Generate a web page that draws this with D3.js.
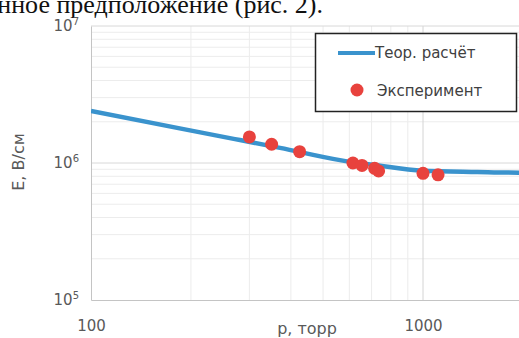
<!DOCTYPE html>
<html>
<head>
<meta charset="utf-8">
<script src="https://cdn.jsdelivr.net/npm/d3@7"></script>
<style>
  body { margin: 0; background: #fff; }
  svg { display: block; }
</style>
</head>
<body>
<svg></svg>
<script>
// chart data
var curveP = [100, 185, 281, 371, 562, 717, 1000, 1455, 1946, 2600];
var curveE = [2.40e6, 1.79e6, 1.47e6, 1.29e6, 1.05e6, 0.967e6, 0.879e6, 0.86e6, 0.85e6, 0.855e6];
var expP = [300, 350, 425, 615, 655, 715, 735, 1000, 1110];
var expE = [1.55e6, 1.37e6, 1.21e6, 1.0e6, 0.96e6, 0.915e6, 0.875e6, 0.84e6, 0.82e6];
var xTicks = [100, 1000];
var yTicks = [1e5, 1e6, 1e7];
var legendLabels = ['Теор. расчёт', 'Эксперимент'];
var topText = 'нное предположение (рис. 2).';

var width = 519;
var height = 338;
var padLeft = 91, padTop = 26, padBottom = 300, padRight = 755;
var font = '"DejaVu Sans", sans-serif';
var blue = '#3a93cd';
var red = '#e8423d';

var svg = d3.select('svg').attr('width', width).attr('height', height);

var xScale = d3.scaleLog().domain([100, 10000]).range([padLeft, padRight]);
var yScale = d3.scaleLog().domain([1e5, 1e7]).range([padBottom, padTop]);

// text line above the figure
svg.append('text')
  .attr('x', 323)
  .attr('y', 13)
  .attr('text-anchor', 'end')
  .attr('font-family', '"Liberation Serif", serif')
  .attr('font-size', 26)
  .attr('fill', '#111')
  .text(topText);

// grid
var minorX = [], minorY = [];
[100, 1000].forEach(function (b) {
  for (var k = 2; k <= 9; k++) minorX.push(b * k);
});
[1e5, 1e6].forEach(function (b) {
  for (var k = 2; k <= 9; k++) minorY.push(b * k);
});

var grid = svg.append('g');
grid.selectAll('.mx').data(minorX).enter().append('line')
  .attr('x1', (d) => xScale(d)).attr('x2', (d) => xScale(d))
  .attr('y1', padTop).attr('y2', padBottom)
  .attr('stroke', '#ececec');
grid.selectAll('.my').data(minorY).enter().append('line')
  .attr('x1', padLeft).attr('x2', width)
  .attr('y1', (d) => yScale(d)).attr('y2', (d) => yScale(d))
  .attr('stroke', '#ececec');
grid.selectAll('.Mx').data([1000]).enter().append('line')
  .attr('x1', (d) => xScale(d)).attr('x2', (d) => xScale(d))
  .attr('y1', padTop).attr('y2', padBottom)
  .attr('stroke', '#d4d4d4');
grid.selectAll('.My').data([1e6, 1e7]).enter().append('line')
  .attr('x1', padLeft).attr('x2', width)
  .attr('y1', (d) => yScale(d)).attr('y2', (d) => yScale(d))
  .attr('stroke', '#d8d8d8');

// axes
var xAxis = d3.axisBottom(xScale).tickValues(xTicks).tickSize(0).tickPadding(20)
  .tickFormat(d3.format('d'));
var gx = svg.append('g')
  .attr('transform', 'translate(0,' + padBottom + ')')
  .call(xAxis);
gx.select('.domain').attr('stroke', '#c4c4c4');
gx.selectAll('text').attr('font-family', font).attr('font-size', 15).attr('fill', '#595959');

var yAxis = d3.axisLeft(yScale).tickValues(yTicks).tickSize(0).tickPadding(12);
var gy = svg.append('g')
  .attr('transform', 'translate(' + padLeft + ',0)')
  .call(yAxis);
gy.select('.domain').attr('stroke', '#c4c4c4');
gy.selectAll('text')
  .attr('font-family', font).attr('font-size', 15).attr('fill', '#595959')
  .text(null)
  .each(function (d) {
    var t = d3.select(this);
    t.append('tspan').text('10');
    t.append('tspan')
      .attr('font-size', 10)
      .attr('dy', '-0.6em')
      .text(Math.round(Math.log10(d)));
  });

// axis titles
svg.append('text')
  .attr('x', 307)
  .attr('y', 334)
  .attr('text-anchor', 'middle')
  .attr('font-family', font)
  .attr('font-size', 16)
  .attr('fill', '#595959')
  .text('р, торр');

svg.append('text')
  .attr('transform', 'rotate(-90)')
  .attr('x', -162)
  .attr('y', 24)
  .attr('text-anchor', 'middle')
  .attr('font-family', font)
  .attr('font-size', 16)
  .attr('fill', '#595959')
  .text('E, В/см');

// curve
svg.append('clipPath').attr('id', 'plot')
  .append('rect').attr('x', padLeft).attr('y', padTop)
  .attr('width', padRight - padLeft).attr('height', padBottom - padTop);

var curve = curveP.map((p, i) => ({ p: p, e: curveE[i] }));
var line = d3.line()
  .x((d) => xScale(d.p))
  .y((d) => yScale(d.e))
  .curve(d3.curveMonotoneX);

svg.append('path')
  .datum(curve)
  .attr('clip-path', 'url(#plot)')
  .attr('d', line)
  .attr('fill', 'none')
  .attr('stroke', blue)
  .attr('stroke-width', 4.5);

// experiment points
svg.selectAll('circle.exp')
  .data(expP.map((p, i) => ({ p: p, e: expE[i] })))
  .enter()
  .append('circle')
  .attr('class', 'exp')
  .attr('cx', (d) => xScale(d.p))
  .attr('cy', (d) => yScale(d.e))
  .attr('r', 6.5)
  .attr('fill', red);

// legend
var lg = svg.append('g');
lg.append('rect')
  .attr('x', 315.5).attr('y', 33.5)
  .attr('width', 201).attr('height', 78)
  .attr('fill', '#fff')
  .attr('stroke', '#222')
  .attr('stroke-width', 1.5);
lg.append('line')
  .attr('x1', 338).attr('x2', 375)
  .attr('y1', 53).attr('y2', 53)
  .attr('stroke', blue).attr('stroke-width', 4);
lg.append('circle')
  .attr('cx', 357).attr('cy', 90).attr('r', 6.5)
  .attr('fill', red);
lg.selectAll('text')
  .data(legendLabels)
  .enter()
  .append('text')
  .attr('x', (d, i) => (i === 0 ? 375 : 377))
  .attr('y', (d, i) => (i === 0 ? 58 : 96))
  .attr('font-family', font)
  .attr('font-size', 15)
  .attr('fill', '#404040')
  .text((d) => d);
</script>
</body>
</html>
